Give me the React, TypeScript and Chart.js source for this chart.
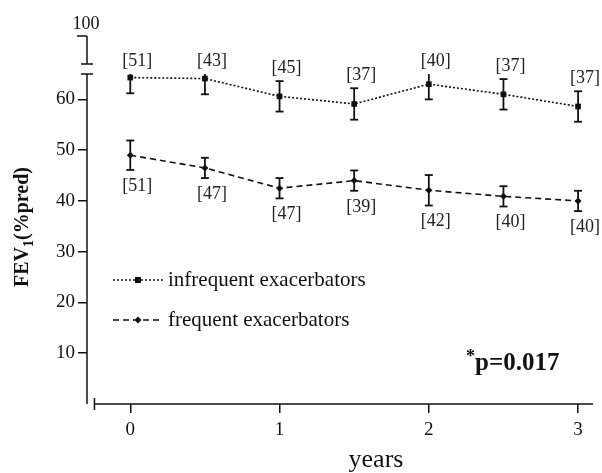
import React, { useEffect, useRef } from 'react';
import { Chart, registerables } from 'chart.js';

Chart.register(...registerables);

// ---- data ----
const years = [0, 0.5, 1, 1.5, 2, 2.5, 3];
const infrequentMean = [64.3, 64.1, 60.6, 59.1, 63.0, 61.0, 58.6];
const infrequentErr = [3.1, 3.1, 3.0, 3.1, 3.0, 3.0, 3.0];
const infrequentN = ['[51]', '[43]', '[45]', '[37]', '[40]', '[37]', '[37]'];
const frequentMean = [49.0, 46.5, 42.5, 44.0, 42.1, 40.9, 40.0];
const frequentErr = [2.9, 2.0, 2.0, 2.0, 3.0, 2.0, 2.0];
const frequentN = ['[51]', '[47]', '[47]', '[39]', '[42]', '[40]', '[40]'];
const xTickValues = [0, 1, 2, 3];
const yTickValues = [10, 20, 30, 40, 50, 60];
const yMin = 0;
const yMax = 65;
const xMin = -0.29;
const xMax = 3.1;
const xAxisStart = -0.24;
const brokenTopLabel = '100';
const seriesNames = ['infrequent exacerbators', 'frequent exacerbators'];
const pValueText = 'p=0.017';
const xTitle = 'years';

const ink = '#111';
const serif = "'Liberation Serif', 'Times New Roman', serif";

function seg(ctx: CanvasRenderingContext2D, x1: number, y1: number, x2: number, y2: number) {
  ctx.beginPath();
  ctx.moveTo(x1, y1);
  ctx.lineTo(x2, y2);
  ctx.stroke();
}

const overlay = {
  id: 'overlay',
  afterDatasetsDraw(chart: any) {
    const { ctx, chartArea, scales } = chart;
    const xs = scales.x;
    const ys = scales.y;
    const ax = chartArea.left;
    const ab = chartArea.bottom;
    const at = ys.getPixelForValue(yMax);
    ctx.save();
    ctx.strokeStyle = ink;
    ctx.fillStyle = ink;
    ctx.setLineDash([]);
    ctx.lineWidth = 1.5;

    // y axis (lower part) with top cap
    seg(ctx, ax, ab, ax, at);
    seg(ctx, ax - 6, at, ax + 6, at);
    // broken upper segment
    const upTop = at - 38;
    const upBot = at - 10;
    seg(ctx, ax, upBot, ax, upTop);
    seg(ctx, ax - 6, upBot, ax + 6, upBot);
    seg(ctx, ax - 10, upTop, ax, upTop);
    ctx.font = `18px ${serif}`;
    ctx.textAlign = 'center';
    ctx.textBaseline = 'middle';
    ctx.fillText(brokenTopLabel, ax - 1, upTop - 12);

    // x axis
    const x0 = xs.getPixelForValue(xAxisStart);
    seg(ctx, x0, ab, chartArea.right, ab);
    seg(ctx, x0, ab - 6, x0, ab + 6);

    // error bars
    const drawErr = (means: number[], errs: number[]) => {
      ctx.lineWidth = 1.8;
      means.forEach((m, i) => {
        const px = xs.getPixelForValue(years[i]);
        const hiV = m + errs[i];
        const loV = m - errs[i];
        const hi = ys.getPixelForValue(Math.min(hiV, yMax));
        const lo = ys.getPixelForValue(Math.max(loV, yMin));
        seg(ctx, px, hi, px, lo);
        if (hiV <= yMax) seg(ctx, px - 4, hi, px + 4, hi);
        seg(ctx, px - 4, lo, px + 4, lo);
      });
    };
    drawErr(infrequentMean, infrequentErr);
    drawErr(frequentMean, frequentErr);

    // n labels
    ctx.font = `18px ${serif}`;
    ctx.fillStyle = '#222';
    ctx.textAlign = 'center';
    ctx.textBaseline = 'middle';
    infrequentMean.forEach((m, i) => {
      const px = xs.getPixelForValue(years[i]);
      const hi = ys.getPixelForValue(Math.min(m + infrequentErr[i], yMax));
      ctx.fillText(infrequentN[i], px + 7, hi - 13);
    });
    frequentMean.forEach((m, i) => {
      const px = xs.getPixelForValue(years[i]);
      const lo = ys.getPixelForValue(m - frequentErr[i]);
      ctx.fillText(frequentN[i], px + 7, lo + 16);
    });

    // legend
    ctx.fillStyle = ink;
    const rows = [
      { y: 280, dash: [2, 2], style: 'rect', name: seriesNames[0] },
      { y: 320, dash: [6, 4], style: 'rectRot', name: seriesNames[1] },
    ];
    rows.forEach((r) => {
      ctx.lineWidth = 1.5;
      ctx.setLineDash(r.dash);
      seg(ctx, 113, r.y, 163, r.y);
      ctx.setLineDash([]);
      ctx.beginPath();
      if (r.style === 'rect') {
        ctx.rect(135, r.y - 3, 6, 6);
      } else {
        ctx.moveTo(138, r.y - 3.5);
        ctx.lineTo(141.5, r.y);
        ctx.lineTo(138, r.y + 3.5);
        ctx.lineTo(134.5, r.y);
        ctx.closePath();
      }
      ctx.fill();
      ctx.font = `21px ${serif}`;
      ctx.textAlign = 'left';
      ctx.textBaseline = 'middle';
      ctx.fillText(r.name, 168, r.y);
    });

    // p value
    ctx.textBaseline = 'alphabetic';
    ctx.textAlign = 'left';
    ctx.font = `bold 18px ${serif}`;
    ctx.fillText('*', 466, 362);
    ctx.font = `bold 25px ${serif}`;
    ctx.fillText(pValueText, 475, 370);

    // x title
    ctx.font = `26px ${serif}`;
    ctx.textAlign = 'center';
    ctx.fillText(xTitle, 376, 467);

    // y title (rotated) FEV1(%pred)
    ctx.save();
    ctx.translate(28, 227);
    ctx.rotate(-Math.PI / 2);
    const big = `bold 20px ${serif}`;
    const small = `bold 14px ${serif}`;
    ctx.font = big;
    const w1 = ctx.measureText('FEV').width;
    const w3 = ctx.measureText('(%pred)').width;
    ctx.font = small;
    const w2 = ctx.measureText('1').width;
    const total = w1 + w2 + w3;
    let cx = -total / 2;
    ctx.textAlign = 'left';
    ctx.font = big;
    ctx.fillText('FEV', cx, 0);
    cx += w1;
    ctx.font = small;
    ctx.fillText('1', cx, 5);
    cx += w2;
    ctx.font = big;
    ctx.fillText('(%pred)', cx, 0);
    ctx.restore();

    ctx.restore();
  },
};

export default function App() {
  const ref = useRef<HTMLCanvasElement | null>(null);
  useEffect(() => {
    document.body.style.margin = '0';
    const canvas = ref.current;
    if (!canvas) return;
    const chart = new Chart(canvas, {
      type: 'line',
      data: {
        datasets: [
          {
            label: seriesNames[0],
            data: years.map((x, i) => ({ x, y: infrequentMean[i] })),
            borderColor: ink,
            backgroundColor: ink,
            borderWidth: 1.6,
            borderDash: [2, 2],
            pointStyle: 'rect',
            pointRadius: 4,
            pointBorderWidth: 0,
            tension: 0,
          },
          {
            label: seriesNames[1],
            data: years.map((x, i) => ({ x, y: frequentMean[i] })),
            borderColor: ink,
            backgroundColor: ink,
            borderWidth: 1.6,
            borderDash: [6, 4],
            pointStyle: 'rectRot',
            pointRadius: 3.5,
            pointBorderWidth: 0,
            tension: 0,
          },
        ],
      },
      options: {
        animation: false,
        responsive: false,
        devicePixelRatio: 1,
        clip: false as any,
        layout: { padding: { top: 74, right: 9, left: 0, bottom: 0 } },
        plugins: { legend: { display: false }, tooltip: { enabled: false } },
        scales: {
          x: {
            type: 'linear',
            min: xMin,
            max: xMax,
            afterBuildTicks: (s: any) => {
              s.ticks = xTickValues.map((v) => ({ value: v }));
            },
            afterFit: (s: any) => {
              s.height = 69;
            },
            border: { display: false },
            grid: { drawOnChartArea: false, drawTicks: true, tickLength: 9, color: ink, lineWidth: 1.5 },
            ticks: { color: ink, font: { family: serif, size: 19 }, padding: 6, maxRotation: 0 },
          },
          y: {
            type: 'linear',
            min: yMin,
            max: yMax,
            afterBuildTicks: (s: any) => {
              s.ticks = yTickValues.map((v) => ({ value: v }));
            },
            afterFit: (s: any) => {
              s.width = 87;
            },
            border: { display: false },
            grid: { drawOnChartArea: false, drawTicks: true, tickLength: 9, color: ink, lineWidth: 1.5 },
            ticks: { color: ink, font: { family: serif, size: 19 }, padding: 3 },
          },
        },
      },
      plugins: [overlay],
    });
    return () => chart.destroy();
  }, []);
  return (
    <div style={{ width: 602, height: 473, position: 'relative', background: '#fff' }}>
      <canvas ref={ref} width={602} height={473} />
    </div>
  );
}
